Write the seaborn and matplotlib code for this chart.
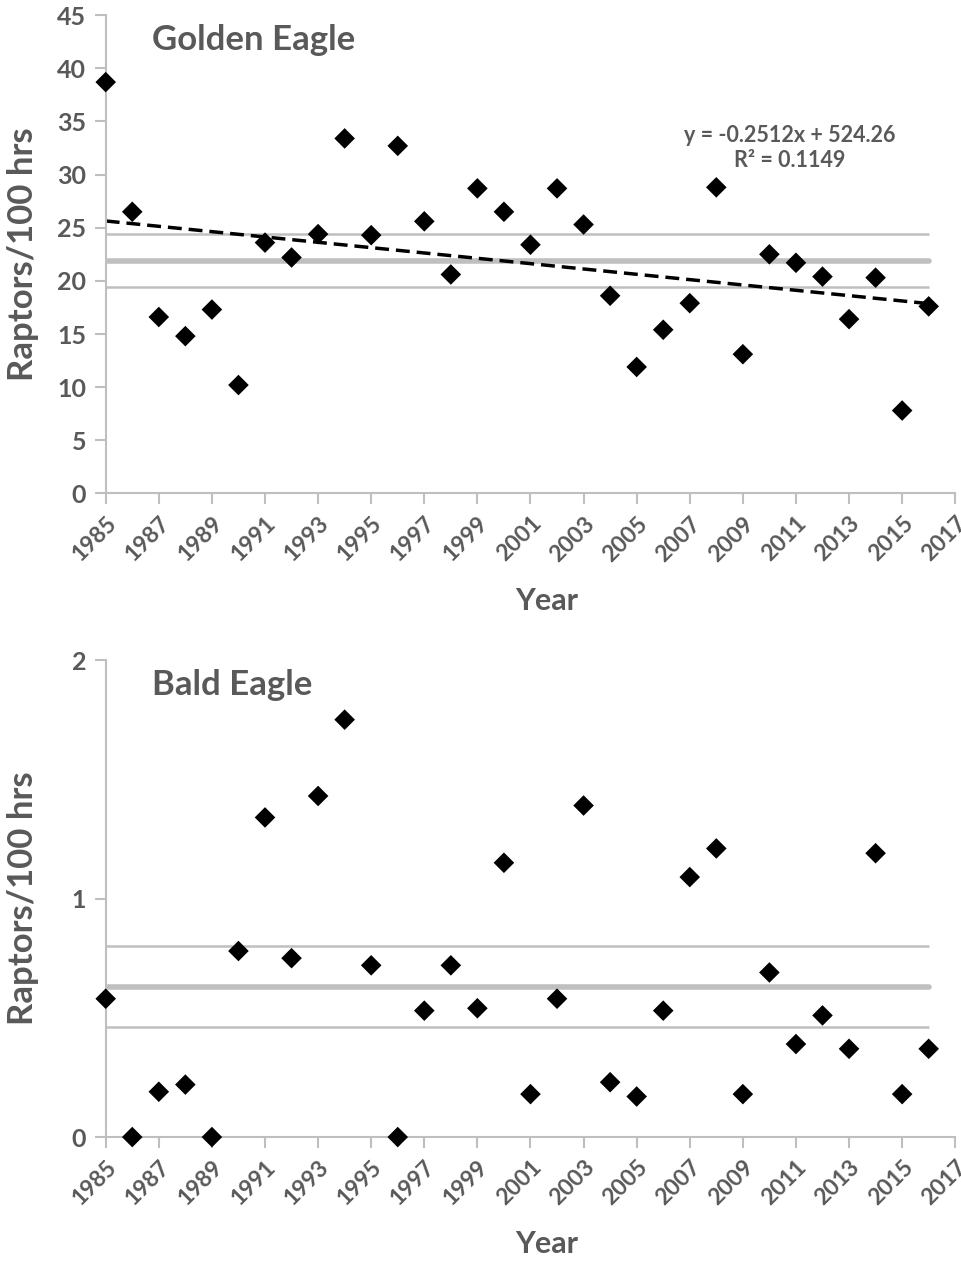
import numpy as np
import pandas as pd
import seaborn as sns
import matplotlib
matplotlib.use("Agg")
import matplotlib.pyplot as plt

years = list(range(1985, 2017))
golden = [38.7, 26.5, 16.6, 14.8, 17.3, 10.2, 23.6, 22.2, 24.4, 33.4,
          24.3, 32.7, 25.6, 20.6, 28.7, 26.5, 23.4, 28.7, 25.3, 18.6,
          11.9, 15.4, 17.9, 28.8, 13.1, 22.5, 21.7, 20.4, 16.4, 20.3,
          7.8, 17.6]
bald = [0.58, 0.0, 0.19, 0.22, 0.0, 0.78, 1.34, 0.75, 1.43, 1.75,
        0.72, 0.0, 0.53, 0.72, 0.54, 1.15, 0.18, 0.58, 1.39, 0.23,
        0.17, 0.53, 1.09, 1.21, 0.18, 0.69, 0.39, 0.51, 0.37, 1.19,
        0.18, 0.37]
golden_bands = [19.4, 21.9, 24.4]   # lower, mean, upper
bald_bands = [0.46, 0.63, 0.80]
golden_yticks = [0, 5, 10, 15, 20, 25, 30, 35, 40, 45]
bald_yticks = [0, 1, 2]
xticks = list(range(1985, 2018, 2))
equation_text = "y = -0.2512x + 524.26\nR² = 0.1149"

sns.set_theme(style="white")
plt.rcParams["font.family"] = ["Lato", "DejaVu Sans"]
plt.rcParams["font.weight"] = "bold"

TXT = "#595959"
GRID = "#bfbfbf"

fig = plt.figure(figsize=(9.61, 12.62), dpi=100)
ax1 = fig.add_axes([0.110, 0.609, 0.884, 0.379])
ax2 = fig.add_axes([0.110, 0.099, 0.884, 0.378])

df_g = pd.DataFrame({"Year": years, "Value": golden})
df_b = pd.DataFrame({"Year": years, "Value": bald})


def style_axis(ax, ylim, yticks):
    ax.set_xlim(1985, 2017)
    ax.set_ylim(*ylim)
    ax.set_xticks(xticks)
    ax.set_yticks(yticks)
    ax.set_xticklabels([str(t) for t in xticks], rotation=45, ha="right",
                       rotation_mode="anchor", fontsize=16.5, fontweight="bold", color=TXT)
    ax.set_yticklabels([str(t) for t in yticks], fontsize=18, fontweight="bold", color=TXT)
    for s in ["top", "right"]:
        ax.spines[s].set_visible(False)
    for s in ["left", "bottom"]:
        ax.spines[s].set_color(GRID)
        ax.spines[s].set_linewidth(1.5)
    ax.tick_params(axis="both", which="major", direction="out", length=8, width=1.5,
                   color=GRID, left=True, bottom=True)
    ax.tick_params(axis="x", pad=6)
    ax.tick_params(axis="y", pad=6)
    ax.set_xlabel("Year", fontsize=22, fontweight="bold", color=TXT)
    ax.xaxis.set_label_coords(0.519, -0.195)
    ax.set_ylabel("Raptors/100 hrs", fontsize=25, fontweight="bold", color=TXT)
    ax.yaxis.set_label_coords(-0.078, 0.5)


def bands(ax, vals):
    ax.hlines(vals[0], years[0], years[-1], color=GRID, lw=1.8, zorder=1)
    ax.hlines(vals[1], years[0], years[-1], color=GRID, lw=4, zorder=1, capstyle="round")
    ax.hlines(vals[2], years[0], years[-1], color=GRID, lw=1.8, zorder=1)


# Golden Eagle
bands(ax1, golden_bands)
sns.regplot(data=df_g, x="Year", y="Value", ax=ax1, scatter=False, ci=None, truncate=True,
            line_kws=dict(color="black", lw=2.5, ls=(0, (4, 2))))
sns.scatterplot(data=df_g, x="Year", y="Value", ax=ax1, marker="D", color="black",
                s=110, edgecolor="none", zorder=5, clip_on=False)
style_axis(ax1, (0, 45), golden_yticks)
ax1.text(0.054, 0.948, "Golden Eagle", transform=ax1.transAxes, fontsize=25,
         fontweight="bold", color=TXT, va="center", ha="left")
ax1.text(2010.75, 32.5, equation_text, fontsize=15.5, fontweight="bold", color=TXT,
         ha="center", va="center", linespacing=1.25)

# Bald Eagle
bands(ax2, bald_bands)
sns.scatterplot(data=df_b, x="Year", y="Value", ax=ax2, marker="D", color="black",
                s=110, edgecolor="none", zorder=5, clip_on=False)
style_axis(ax2, (0, 2), bald_yticks)
ax2.text(0.054, 0.948, "Bald Eagle", transform=ax2.transAxes, fontsize=25,
         fontweight="bold", color=TXT, va="center", ha="left")

fig.savefig("out.png", dpi=100)
